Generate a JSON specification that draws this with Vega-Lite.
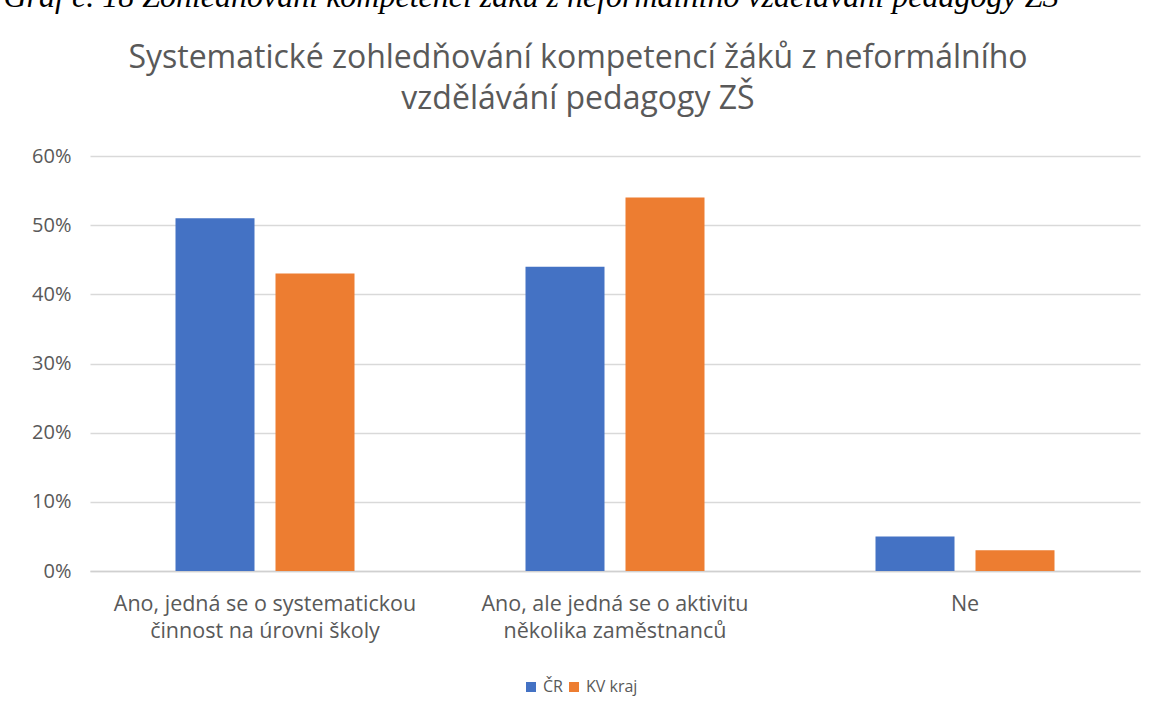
{
  "$schema": "https://vega.github.io/schema/vega-lite/v6.json",
  "autosize": {"type": "none"},
  "padding": {"left": 90, "top": 156, "right": 22, "bottom": 144},
  "width": 1050,
  "height": 415,
  "background": "white",
  "title": {
    "text": ["Systematické zohledňování kompetencí žáků z neformálního", "vzdělávání  pedagogy ZŠ"],
    "font": "Open Sans",
    "fontSize": 32,
    "fontWeight": "normal",
    "color": "#595959",
    "lineHeight": 41,
    "anchor": "middle",
    "frame": "group",
    "dx": -37,
    "dy": 136,
    "offset": 0
  },
  "data": {
    "values": [
      {"kategorie": "Ano, jedná se o systematickou činnost na úrovni školy", "skupina": "ČR", "podil": 0.51},
      {"kategorie": "Ano, jedná se o systematickou činnost na úrovni školy", "skupina": "KV kraj", "podil": 0.43},
      {"kategorie": "Ano, ale jedná se o aktivitu několika zaměstnanců", "skupina": "ČR", "podil": 0.44},
      {"kategorie": "Ano, ale jedná se o aktivitu několika zaměstnanců", "skupina": "KV kraj", "podil": 0.54},
      {"kategorie": "Ne", "skupina": "ČR", "podil": 0.05},
      {"kategorie": "Ne", "skupina": "KV kraj", "podil": 0.03}
    ]
  },
  "mark": {"type": "bar"},
  "encoding": {
    "x": {
      "field": "kategorie",
      "type": "nominal",
      "sort": null,
      "scale": {"paddingInner": 0, "paddingOuter": 0},
      "axis": {
        "title": null,
        "labelAngle": 0,
        "labelFont": "Open Sans",
        "labelFontSize": 21.5,
        "labelLimit": 0,
        "labelColor": "#595959",
        "labelLineHeight": 27,
        "labelPadding": 22,
        "ticks": false,
        "domainColor": "#d0d0d0",
        "domainWidth": 1.5,
        "labelExpr": "datum.value == 'Ano, jedná se o systematickou činnost na úrovni školy' ? ['Ano, jedná se o systematickou', 'činnost na úrovni školy'] : datum.value == 'Ano, ale jedná se o aktivitu několika zaměstnanců' ? ['Ano, ale jedná se o aktivitu', 'několika zaměstnanců'] : datum.value"
      }
    },
    "xOffset": {
      "field": "skupina",
      "type": "nominal",
      "sort": ["ČR", "KV kraj"],
      "scale": {"paddingInner": 0.21, "paddingOuter": 0.855}
    },
    "y": {
      "field": "podil",
      "type": "quantitative",
      "scale": {"domain": [0, 0.6]},
      "axis": {
        "values": [0, 0.1, 0.2, 0.3, 0.4, 0.5, 0.6],
        "format": ".0%",
        "domain": false,
        "ticks": false,
        "labelFont": "Open Sans",
        "labelFontSize": 20,
        "labelColor": "#595959",
        "labelPadding": 19,
        "gridColor": "#d9d9d9",
        "gridWidth": 1.5,
        "title": "Graf č. 18 Zohledňování kompetencí žáků z neformálního vzdělávání pedagogy ZŠ",
        "titleFont": "Liberation Serif",
        "titleFontStyle": "italic",
        "titleFontWeight": "normal",
        "titleFontSize": 32,
        "titleColor": "#000000",
        "titleAngle": 0,
        "titleAlign": "left",
        "titleBaseline": "alphabetic",
        "titleX": -87,
        "titleY": -150
      }
    },
    "color": {
      "field": "skupina",
      "type": "nominal",
      "scale": {"domain": ["ČR", "KV kraj"], "range": ["#4472C4", "#ED7D31"]},
      "legend": {
        "title": null,
        "orient": "none",
        "direction": "horizontal",
        "legendX": 433,
        "legendY": 523,
        "symbolType": "square",
        "symbolSize": 100,
        "labelFont": "Open Sans",
        "labelFontSize": 16,
        "labelColor": "#595959",
        "labelOffset": 4,
        "columnPadding": 3
      }
    }
  },
  "config": {
    "view": {"stroke": null},
    "axis": {"gridColor": "#d9d9d9"}
  }
}
